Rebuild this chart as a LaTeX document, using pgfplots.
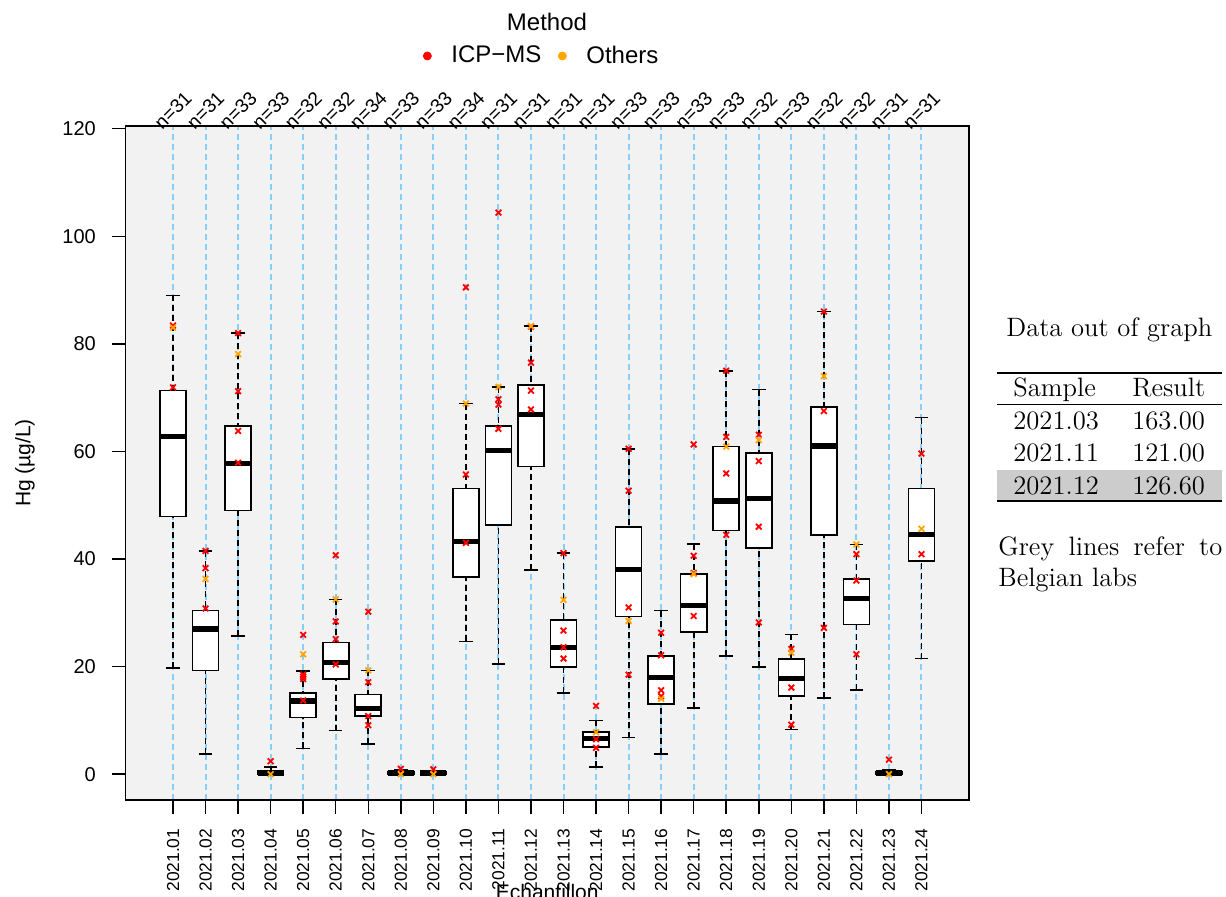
\documentclass[border=0pt]{standalone}
\usepackage{fontspec}
\setsansfont{Liberation Sans}
\usepackage{pgfplots}
\pgfplotsset{compat=1.18}
\usepgfplotslibrary{statistics}

\definecolor{icpred}{HTML}{FF0000}
\definecolor{othersorange}{HTML}{FFA500}
\definecolor{guide}{HTML}{87CEFA}
\definecolor{rowgrey}{HTML}{CCCCCC}

\newcommand\nlabelfont{\fontsize{9.6}{11}\sffamily}

% one box per sample: dashed whiskers with solid staples, thick median
\pgfplotsset{
  hgbox/.style={
    forget plot, black, line width=0.8pt,
    boxplot/draw direction=y,
    boxplot/box extend=0.8,
    boxplot/every box/.style={draw=black, fill=white, line width=0.8pt},
    boxplot/every median/.style={draw=black, line width=2.6pt},
    boxplot/draw/lower whisker/.code={%
      \draw[black, line width=0.9pt, dash pattern=on 3pt off 2pt]
        (boxplot box cs:\pgfplotsboxplotvalue{lower whisker},0.5) --
        (boxplot box cs:\pgfplotsboxplotvalue{lower quartile},0.5);
      \draw[black, line width=0.8pt, solid]
        (boxplot box cs:\pgfplotsboxplotvalue{lower whisker},0.24) --
        (boxplot box cs:\pgfplotsboxplotvalue{lower whisker},0.76);
    },
    boxplot/draw/upper whisker/.code={%
      \draw[black, line width=0.9pt, dash pattern=on 3pt off 2pt]
        (boxplot box cs:\pgfplotsboxplotvalue{upper whisker},0.5) --
        (boxplot box cs:\pgfplotsboxplotvalue{upper quartile},0.5);
      \draw[black, line width=0.8pt, solid]
        (boxplot box cs:\pgfplotsboxplotvalue{upper whisker},0.24) --
        (boxplot box cs:\pgfplotsboxplotvalue{upper whisker},0.76);
    },
  },
}
% #1 position, #2 lower whisker, #3 Q1, #4 median, #5 Q3, #6 upper whisker
\newcommand{\hgboxplot}[6]{%
  \addplot[hgbox, boxplot prepared={draw position=#1, lower whisker=#2,
    lower quartile=#3, median=#4, upper quartile=#5, upper whisker=#6}]
    coordinates {};}

\begin{document}
\begin{tikzpicture}[x=1pt,y=1pt]
\path[use as bounding box] (0,0) rectangle (613,448.5);

\node[font=\fontsize{12}{14}\sffamily] at (273.5,437.5) {Method};

\begin{axis}[
  at={(62.75pt,48.5pt)}, anchor=south west,
  width=421.75pt, height=337pt, scale only axis,
  xmin=-0.46, xmax=25.46, ymin=-4.8, ymax=120.5,
  clip=false,
  axis background/.style={fill=gray!10},
  axis line style={line width=0.75pt},
  tick style={black, line width=0.75pt},
  tick align=outside, tick pos=left,
  major tick length=6.8pt,
  xtick={1,...,24},
  xticklabels={2021.01,2021.02,2021.03,2021.04,2021.05,2021.06,2021.07,2021.08,
    2021.09,2021.10,2021.11,2021.12,2021.13,2021.14,2021.15,2021.16,2021.17,
    2021.18,2021.19,2021.20,2021.21,2021.22,2021.23,2021.24},
  xticklabel style={font=\fontsize{8.7}{10}\sffamily, rotate=90, anchor=east},
  xticklabel shift=4pt,
  ytick={0,20,40,60,80,100,120},
  yticklabels={0,20,40,60,80,100,120},
  yticklabel style={font=\fontsize{10}{12}\sffamily},
  yticklabel shift=4.5pt,
  xmajorgrids,
  major x grid style={guide, line width=1pt, dash pattern=on 3pt off 2pt},
  xlabel={Echantillon},
  xlabel style={at={(axis description cs:0.5,-0.1246)}, anchor=north,
    inner sep=0pt, font=\fontsize{10.5}{12}\sffamily},
  ylabel={Hg (µg/L)},
  ylabel style={at={(axis description cs:-0.1191,0.5)}, anchor=center,
    font=\fontsize{10.5}{12}\sffamily},
  legend style={at={(0.5,1)}, anchor=center, xshift=-2.2pt, yshift=35pt,
    draw=none, fill=none, legend columns=-1,
    font=\fontsize{12}{14}\sffamily,
    /tikz/every even column/.append style={column sep=6.5pt},
    /tikz/every odd column/.append style={column sep=8pt}},
]
\addlegendimage{only marks, mark=*, mark size=2pt, icpred}
\addlegendentry{ICP−MS}
\addlegendimage{only marks, mark=*, mark size=2pt, othersorange}
\addlegendentry{Others}

\hgboxplot{1}{19.7}{47.9}{62.8}{71.3}{89.0}
\hgboxplot{2}{3.7}{19.3}{27.0}{30.4}{41.5}
\hgboxplot{3}{25.7}{49.0}{57.7}{64.7}{82.0}
\hgboxplot{4}{0.0}{0.0}{0.2}{0.6}{1.3}
\hgboxplot{5}{4.8}{10.5}{13.6}{15.1}{19.2}
\hgboxplot{6}{8.1}{17.7}{20.7}{24.5}{32.5}
\hgboxplot{7}{5.6}{10.8}{12.2}{14.8}{19.3}
\hgboxplot{8}{0.0}{0.05}{0.2}{0.45}{0.8}
\hgboxplot{9}{0.0}{0.05}{0.2}{0.45}{0.6}
\hgboxplot{10}{24.7}{36.7}{43.2}{53.1}{68.9}
\hgboxplot{11}{20.5}{46.3}{60.1}{64.7}{72.0}
\hgboxplot{12}{38.0}{57.2}{66.9}{72.4}{83.3}
\hgboxplot{13}{15.1}{19.9}{23.6}{28.7}{41.1}
\hgboxplot{14}{1.3}{5.0}{6.6}{7.8}{10.0}
\hgboxplot{15}{6.8}{29.3}{38.0}{45.9}{60.5}
\hgboxplot{16}{3.8}{13.0}{17.9}{22.0}{30.4}
\hgboxplot{17}{12.3}{26.4}{31.4}{37.2}{42.8}
\hgboxplot{18}{22.0}{45.3}{50.8}{60.9}{75.0}
\hgboxplot{19}{19.9}{42.1}{51.2}{59.7}{71.5}
\hgboxplot{20}{8.3}{14.5}{17.8}{21.4}{26.0}
\hgboxplot{21}{14.2}{44.5}{61.0}{68.3}{86.0}
\hgboxplot{22}{15.7}{27.8}{32.6}{36.3}{42.7}
\hgboxplot{23}{0.0}{0.05}{0.2}{0.5}{0.8}
\hgboxplot{24}{21.5}{39.6}{44.5}{53.1}{66.3}

% ICP-MS results
\addplot[forget plot, only marks, mark=x, mark size=2pt, icpred,
  mark options={line width=0.9pt}] coordinates {
  (1,83.4) (1,71.9)
  (2,41.5) (2,38.3) (2,30.8)
  (3,82.0) (3,71.2) (3,63.8) (3,57.9)
  (4,2.4)
  (5,25.9) (5,18.5) (5,18.1) (5,17.7) (5,13.7)
  (6,40.7) (6,28.4) (6,25.1) (6,20.4)
  (7,30.2) (7,17.1) (7,10.8) (7,9.1)
  (8,1.0)
  (9,0.9)
  (10,90.5) (10,55.7) (10,43.0)
  (11,104.4) (11,69.7) (11,68.7) (11,64.2)
  (12,83.2) (12,76.5) (12,71.3) (12,67.8)
  (13,41.1) (13,26.7) (13,23.6) (13,21.5)
  (14,12.7) (14,6.5) (14,4.9)
  (15,60.5) (15,52.7) (15,31.0) (15,18.5)
  (16,26.3) (16,22.1) (16,15.6) (16,14.5)
  (17,61.3) (17,40.6) (17,37.4) (17,29.4)
  (18,75.0) (18,62.7) (18,55.9) (18,44.5)
  (19,63.1) (19,58.2) (19,46.0) (19,28.2)
  (20,23.3) (20,16.1) (20,9.2)
  (21,86.0) (21,67.5) (21,27.2)
  (22,40.9) (22,36.0) (22,22.3)
  (23,2.7)
  (24,59.6) (24,40.9)
};
% other methods
\addplot[forget plot, only marks, mark=x, mark size=2pt, othersorange,
  mark options={line width=0.9pt}] coordinates {
  (1,83.0) (2,36.3) (3,78.1) (4,0.0) (5,22.3) (6,32.5) (7,19.3) (8,0.0)
  (9,0.0) (10,68.9) (11,72.0) (12,83.3) (13,32.4) (14,7.8) (15,28.5)
  (16,14.0) (17,37.2) (18,60.9) (19,62.1) (20,22.6) (21,74.0) (22,42.7)
  (23,0.0) (24,45.6)
};

% number of results per sample
\foreach \i/\n in {1/31,2/31,3/33,4/33,5/32,6/32,7/34,8/33,9/33,10/34,11/31,12/31,
    13/31,14/31,15/33,16/33,17/33,18/33,19/32,20/33,21/32,22/32,23/31,24/31} {
  \edef\temp{\noexpand\node[rotate=45, font=\noexpand\nlabelfont]
    at (axis cs:\i,123.4) {n=\n};}
  \temp
}
\end{axis}

% side panel
\begin{scope}[font=\fontsize{13.3}{16}\selectfont, every node/.style={inner sep=0pt}]
  \node[anchor=base west] at (503,280) {Data out of graph};
  \fill[rowgrey] (498.5,198.5) rectangle (611,213.5);
  \draw[line width=0.9pt] (498.5,262) -- (611,262);
  \draw[line width=0.5pt] (498.5,246) -- (611,246);
  \draw[line width=0.9pt] (498.5,198) -- (611,198);
  \node[anchor=base west] at (506.5,250) {Sample};
  \node[anchor=base west] at (566,250) {Result};
  \node[anchor=base west] at (506.5,233.5) {2021.03};
  \node[anchor=base west] at (566,233.5) {163.00};
  \node[anchor=base west] at (506.5,217.5) {2021.11};
  \node[anchor=base west] at (566,217.5) {121.00};
  \node[anchor=base west] at (506.5,201) {2021.12};
  \node[anchor=base west] at (566,201) {126.60};
  \node[anchor=base west] at (499,170.5) {\makebox[112pt][s]{Grey lines refer to}};
  \node[anchor=base west] at (499,155) {Belgian labs};
\end{scope}
\end{tikzpicture}
\end{document}
